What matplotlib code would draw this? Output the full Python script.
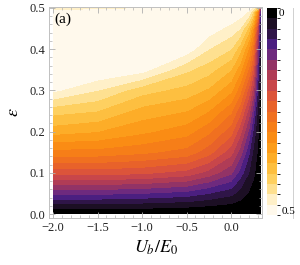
import numpy as np
import matplotlib
matplotlib.use("Agg")
import matplotlib.pyplot as plt
from matplotlib.colors import ListedColormap, BoundaryNorm
from matplotlib.lines import Line2D
from matplotlib.ticker import MultipleLocator

plt.rcParams['mathtext.fontset'] = 'stix'
plt.rcParams['font.family'] = 'serif'
plt.rcParams['font.serif'] = ['Liberation Serif', 'DejaVu Serif']

# grid coordinates
ub = [-2.0, -1.5, -1.0, -0.5, -0.25, 0.0, 0.1, 0.2, 0.25, 0.3, 0.333]
eps = [0.0, 0.02, 0.05, 0.1, 0.15, 0.2, 0.25, 0.3, 0.35, 0.4, 0.45, 0.49, 0.5]

# values per Ub column, listed along eps
col_m200 = [0, 0.040, 0.105, 0.21, 0.29, 0.36, 0.41, 0.48, 0.5, 0.5, 0.5, 0.5, 0.44]
col_m150 = [0, 0.040, 0.105, 0.21, 0.29, 0.35, 0.40, 0.45, 0.5, 0.5, 0.5, 0.5, 0.45]
col_m100 = [0, 0.036, 0.100, 0.205, 0.28, 0.33, 0.365, 0.41, 0.485, 0.5, 0.5, 0.5, 0.47]
col_m050 = [0, 0.030, 0.090, 0.19, 0.265, 0.31, 0.35, 0.39, 0.43, 0.49, 0.5, 0.5, 0.5]
col_m025 = [0, 0.025, 0.075, 0.165, 0.235, 0.28, 0.325, 0.37, 0.41, 0.45, 0.49, 0.5, 0.5]
col_p000 = [0, 0.018, 0.058, 0.13, 0.185, 0.235, 0.28, 0.33, 0.375, 0.425, 0.465, 0.5, 0.5]
col_p010 = [0, 0.013, 0.040, 0.09, 0.14, 0.185, 0.235, 0.285, 0.335, 0.385, 0.45, 0.49, 0.5]
col_p020 = [0, 0.008, 0.022, 0.05, 0.08, 0.12, 0.165, 0.215, 0.27, 0.32, 0.39, 0.47, 0.49]
col_p025 = [0, 0.006, 0.015, 0.03, 0.045, 0.07, 0.11, 0.16, 0.21, 0.26, 0.32, 0.42, 0.47]
col_p030 = [0, 0.003, 0.008, 0.015, 0.022, 0.03, 0.045, 0.07, 0.10, 0.13, 0.18, 0.30, 0.42]
col_p033 = [0, 0.0, 0.002, 0.004, 0.006, 0.008, 0.01, 0.012, 0.015, 0.02, 0.03, 0.05, 0.10]

columns = [col_m200, col_m150, col_m100, col_m050, col_m025, col_p000,
           col_p010, col_p020, col_p025, col_p030, col_p033]

band_colors = ['#000000', '#1c0f24', '#2f1548', '#4b1f80', '#6e2a7e',
               '#923366', '#b03c56', '#c8464a', '#dc543a', '#e8622a',
               '#f07020', '#f67e18', '#fa8c14', '#fc9c1a', '#fdad28',
               '#fdbf40', '#fed060', '#fee090', '#fff0c8', '#fff9ec']
levels = np.linspace(0, 0.5, 21)

cmap = ListedColormap(band_colors)
norm = BoundaryNorm(levels, cmap.N)

Z = np.array(columns).T
X, Y = np.meshgrid(ub, eps)

fig = plt.figure(figsize=(3.0, 2.65), dpi=100)
ax = fig.add_axes([49/300, (265-218)/265, 213/300, 211/265])
cs = ax.contourf(X, Y, Z, levels=levels, cmap=cmap, norm=norm)

ax.set_xlim(-2.045, 0.348)
ax.set_ylim(-0.0097, 0.502)
ax.xaxis.set_major_locator(MultipleLocator(0.5))
ax.xaxis.set_minor_locator(MultipleLocator(0.1))
ax.yaxis.set_major_locator(MultipleLocator(0.1))
ax.yaxis.set_minor_locator(MultipleLocator(0.02))
ax.set_xticks([-2.0, -1.5, -1.0, -0.5, 0.0])
ax.set_xticklabels(['\u22122.0', '\u22121.5', '\u22121.0', '\u22120.5', '0.0'])
ax.set_yticks([0.0, 0.1, 0.2, 0.3, 0.4, 0.5])
ax.set_yticklabels(['0.0', '0.1', '0.2', '0.3', '0.4', '0.5'])
ax.tick_params(which='both', direction='in', top=True, right=True,
               color='#b0b0b0', labelsize=9, labelcolor='#222222', pad=3)
ax.tick_params(which='major', length=4, width=0.6)
ax.tick_params(which='minor', length=2, width=0.5)
for s in ax.spines.values():
    s.set_color('#c0c0c0')
    s.set_linewidth(0.7)

ax.set_xlabel(r'$U_b/E_0$', fontsize=13, labelpad=3)
ax.set_ylabel(r'$\varepsilon$', fontsize=13, labelpad=5)
ax.text(-1.99, 0.488, '(a)', fontsize=11, ha='left', va='top')

cax = fig.add_axes([267/300, (265-215)/265, 10/300, 207/265])
cb = fig.colorbar(cs, cax=cax)
cb.outline.set_visible(False)
cax.invert_yaxis()
cax.set_yticks([])
cax.tick_params(length=0)
fig.text(279/300, 1 - 13/265, '0', fontsize=8, ha='left', va='center')
fig.text(282/300, 1 - 212/265, '0.5', fontsize=8, ha='left', va='center')
fig.add_artist(Line2D([293/300, 293/300], [1 - 8/265, 1 - 218/265],
                      transform=fig.transFigure, color='#d0d0d0', lw=0.7))

fig.savefig('out.png', dpi=100)
